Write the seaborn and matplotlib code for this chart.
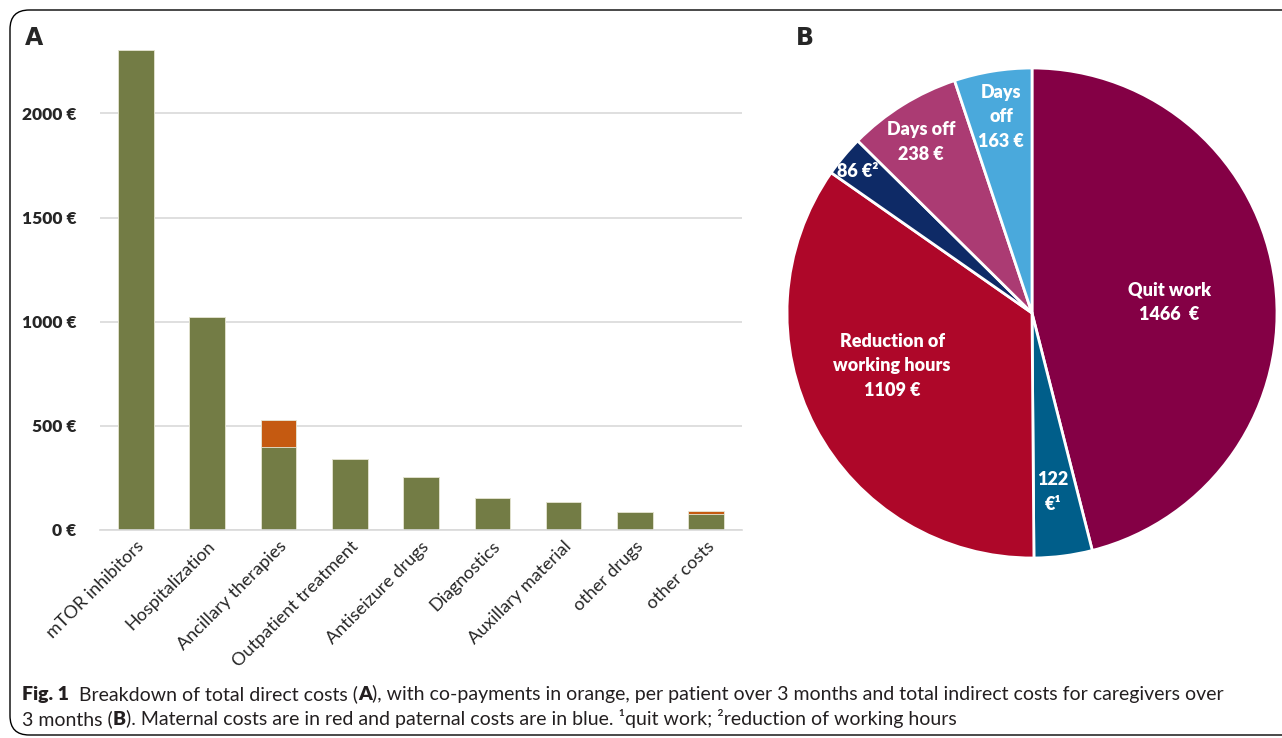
import matplotlib
matplotlib.use('Agg')
import matplotlib.pyplot as plt
import seaborn as sns
import pandas as pd
from matplotlib.patches import FancyBboxPatch

# ── DATA ──────────────────────────────────────────────────
categories = ['mTOR inhibitors', 'Hospitalization', 'Ancillary therapies',
              'Outpatient treatment', 'Antiseizure drugs', 'Diagnostics',
              'Auxillary material', 'other drugs', 'other costs']
insurer_costs = [2305, 1022, 400, 342, 256, 152, 134, 85, 77]
copayments = [0, 0, 128, 0, 0, 0, 0, 0, 16]
yticks = [0, 500, 1000, 1500, 2000]

pie_values = [1466, 122, 1109, 86, 238, 163]
pie_labels = ['Quit work\n1466  €', '122\n€¹', 'Reduction of\nworking hours\n1109 €',
              '86 €²', 'Days off\n238 €', 'Days\noff\n163 €']
pie_colors = ['#840045', '#005e8a', '#ae0729', '#0e2a66', '#ab3b73', '#4aa9dc']

GREEN = '#737c45'
ORANGE = '#c55a11'

df = pd.DataFrame({'cat': categories, 'insurer': insurer_costs, 'copay': copayments})
df['total'] = df['insurer'] + df['copay']

sns.set_theme(style='white')
plt.rcParams['font.family'] = ['Lato', 'DejaVu Sans']

fig = plt.figure(figsize=(12.82, 7.38), dpi=100)
W, H = 1282, 738

# ── A: stacked bars ───────────────────────────────────────
ax = fig.add_axes([100 / W, 1 - 530 / H, 642 / W, 500 / H])
sns.barplot(data=df, x='cat', y='total', color=ORANGE, width=0.5,
            saturation=1, edgecolor='#e8e8d8', linewidth=0.6, ax=ax)
sns.barplot(data=df, x='cat', y='insurer', color=GREEN, width=0.5,
            saturation=1, edgecolor='#e8e8d8', linewidth=0.6, ax=ax)
ax.set_xlim(-0.5, len(categories) - 0.5)
ax.set_ylim(0, 2400)
ax.set_yticks(yticks)
ax.set_yticklabels([f'{v} €' for v in yticks], fontsize=12.5, fontweight='heavy')
ax.set_xticks(range(len(categories)))
ax.set_xticklabels(categories, rotation=45, ha='right', rotation_mode='anchor', fontsize=13)
ax.tick_params(axis='y', length=0, pad=17)
ax.tick_params(axis='x', length=0, pad=6)
ax.yaxis.grid(True, color='#d9d9d9', linewidth=1.2)
ax.set_axisbelow(True)
for s in ['top', 'right', 'left']:
    ax.spines[s].set_visible(False)
ax.spines['bottom'].set_color('#d9d9d9')
ax.spines['bottom'].set_linewidth(1.2)
ax.set_xlabel('')
ax.set_ylabel('')

# ── B: pie ────────────────────────────────────────────────
r_px = 245
axp = fig.add_axes([(1032 - r_px) / W, 1 - (313 + r_px) / H, 2 * r_px / W, 2 * r_px / H])
axp.pie(pie_values, colors=pie_colors, startangle=90, counterclock=False,
        wedgeprops=dict(edgecolor='white', linewidth=2))
axp.set_xlim(-1, 1)
axp.set_ylim(-1, 1)
label_pos = [(0.56, 0.045), (0.086, -0.73), (-0.571, -0.216),
             (-0.71, 0.576), (-0.453, 0.698), (-0.127, 0.80)]
for (lx, ly), txt in zip(label_pos, pie_labels):
    axp.text(lx, ly, txt, color='white', fontsize=13, fontweight='heavy',
             ha='center', va='center', linespacing=1.55)

# ── panel letters, frame, caption ─────────────────────────
fig.text(25 / W, 1 - 38 / H, 'A', fontsize=17, fontweight='bold', va='center', family='DejaVu Sans')
fig.text(796 / W, 1 - 38 / H, 'B', fontsize=17, fontweight='bold', va='center', family='DejaVu Sans')

frame = FancyBboxPatch((10 / W, 3 / H), 1.05, 725 / H, transform=fig.transFigure,
                       boxstyle='round,pad=0,rounding_size=0.015', facecolor='none',
                       edgecolor='black', linewidth=1.0, mutation_aspect=W / H)
fig.patches.append(frame)

cap_font = ['Lato', 'DejaVu Sans']
cap_size = 14


def draw_runs(runs, x0, y):
    renderer = fig.canvas.get_renderer()
    x = x0
    for txt, weight in runs:
        t = fig.text(x / W, 1 - y / H, txt, fontsize=cap_size, fontweight=weight,
                     family=cap_font, va='baseline', color='#231f20')
        bb = t.get_window_extent(renderer=renderer)
        x += bb.width


draw_runs([('Fig. 1', 'heavy'), ('  Breakdown of total direct costs (', 'normal'), ('A', 'heavy'),
           ('), with co-payments in orange, per patient over 3 months and total indirect costs for caregivers over', 'normal')],
          22, 700)
draw_runs([('3 months (', 'normal'), ('B', 'heavy'),
           ('). Maternal costs are in red and paternal costs are in blue. ¹quit work; ²reduction of working hours', 'normal')],
          22, 725)

plt.savefig('out.png', dpi=100)
